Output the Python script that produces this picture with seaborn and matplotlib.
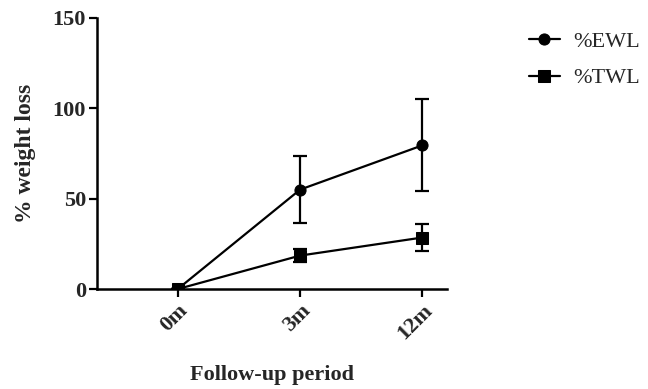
import matplotlib
matplotlib.use("Agg")
import matplotlib.pyplot as plt
import seaborn as sns
import pandas as pd

periods = ["0m", "3m", "12m"]
ewl_mean = [0, 55, 79.5]
ewl_err = [0, 18.5, 25.5]
twl_mean = [0, 18.5, 28.5]
twl_err = [0, 3.5, 7.2]

sns.set_style("ticks")
plt.rcParams['font.family'] = ['Liberation Serif', 'DejaVu Serif']

df = pd.DataFrame({
    "period": periods * 2,
    "value": ewl_mean + twl_mean,
    "group": ["%EWL"] * 3 + ["%TWL"] * 3,
})

fig = plt.figure(figsize=(6.48, 3.89), dpi=100)
ax = fig.add_axes([0.1497, 0.257, 0.54, 0.697])

sns.lineplot(data=df, x="period", y="value", hue="group", style="group",
             markers={"%EWL": "o", "%TWL": "s"}, dashes=False,
             palette=["black", "black"], linewidth=1.6, markersize=8,
             markeredgecolor="black", ax=ax)

xpos = list(range(len(periods)))
ax.errorbar(xpos, ewl_mean, yerr=ewl_err, fmt="none", ecolor="black",
            elinewidth=1.6, capsize=5, capthick=1.6)
ax.errorbar(xpos, twl_mean, yerr=twl_err, fmt="none", ecolor="black",
            elinewidth=1.6, capsize=5, capthick=1.6)

ax.set_xlim(-0.66, 2.2)
ax.set_ylim(0, 150)
ax.set_yticks([0, 50, 100, 150])
ax.set_xticks(xpos)
ax.set_xticklabels(periods, rotation=45, ha="right", rotation_mode="anchor",
                   fontsize=16, fontweight="bold")
for lab in ax.get_yticklabels():
    lab.set_fontsize(16)
    lab.set_fontweight("bold")
ax.tick_params(width=1.6, length=6, color="black", pad=2)
sns.despine(ax=ax)
for s in ["left", "bottom"]:
    ax.spines[s].set_linewidth(1.8)
    ax.spines[s].set_color("black")

ax.set_ylabel("% weight loss", fontsize=17, fontweight="bold", labelpad=12)
ax.set_xlabel("Follow-up period", fontsize=16, fontweight="bold", labelpad=16)

handles, labels = ax.get_legend_handles_labels()
ax.get_legend().remove()
fig.legend(handles, labels, loc="upper left", bbox_to_anchor=(0.785, 0.97),
           frameon=False, fontsize=16, handlelength=1.4, handletextpad=0.6,
           labelspacing=0.7)

fig.savefig("out.png", dpi=100)
